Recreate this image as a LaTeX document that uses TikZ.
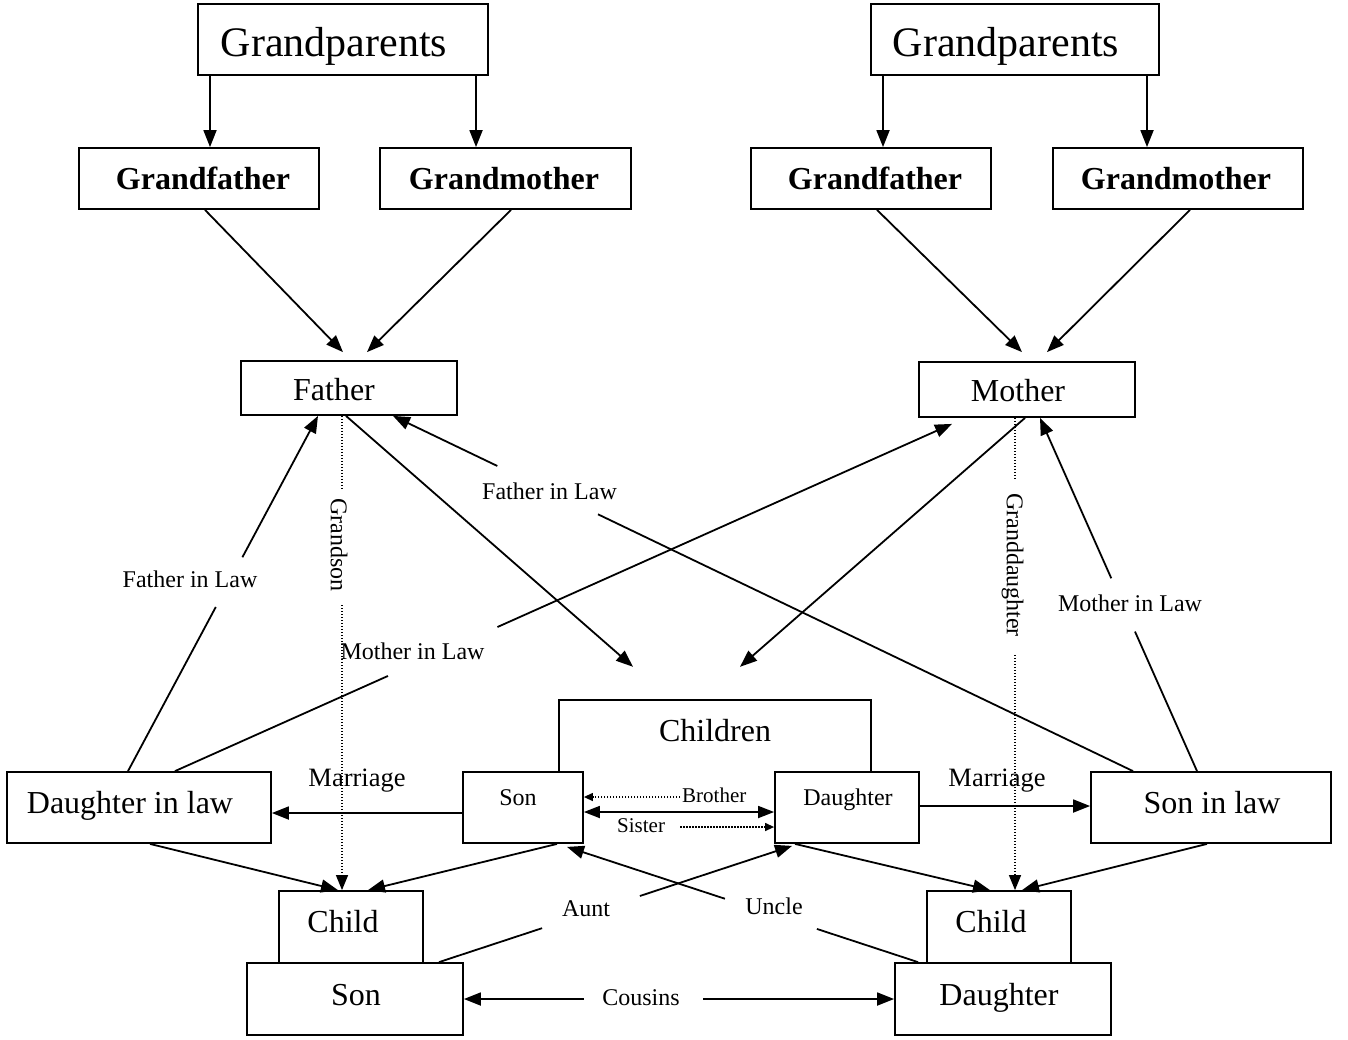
\documentclass[tikz,border=0pt]{standalone}
\usepackage{fontspec}
\setmainfont{Liberation Serif}
\usetikzlibrary{arrows.meta,calc}

\begin{document}
\begin{tikzpicture}[x=1pt,y=-1pt,
  box/.style={draw, line width=1.8pt, rectangle, inner sep=0pt},
  conn/.style={line width=1.8pt},
  arr/.style={conn, -{Triangle[length=17pt,width=13pt]}},
  dblarr/.style={conn, {Triangle[length=16pt,width=12pt]}-{Triangle[length=16pt,width=12pt]}},
  dotline/.style={line width=1.3pt, dash pattern=on 1.3pt off 1.7pt},
  dotarr/.style={dotline, -{Triangle[length=15pt,width=12pt]}},
  dotarrsmall/.style={dotline, -{Triangle[length=9pt,width=8pt]}},
  txt/.style={anchor=base, inner sep=0pt},
  tbig/.style={txt, font=\fontsize{42}{48}\selectfont},
  tmain/.style={txt, font=\fontsize{32}{38}\selectfont},
  tbold/.style={txt, font=\fontsize{32}{38}\selectfont\bfseries},
  tmid/.style={txt, font=\fontsize{24}{28}\selectfont},
  tmar/.style={txt, font=\fontsize{26.5}{30}\selectfont},
  tsmall/.style={txt, font=\fontsize{21}{25}\selectfont},
  tvert/.style={inner sep=0pt, rotate=-90, font=\fontsize{24}{28}\selectfont},
]
\useasboundingbox (0,0) rectangle (1348,1039);

% ---- boxes ----
\node[box, minimum width=290pt, minimum height=71pt] (gpL) at (343,39.5) {};
\node[box, minimum width=288pt, minimum height=71pt] (gpR) at (1015,39.5) {};
\node[box, minimum width=240pt, minimum height=61pt] (gfL) at (199,178.5) {};
\node[box, minimum width=251pt, minimum height=61pt] (gmL) at (505.5,178.5) {};
\node[box, minimum width=240pt, minimum height=61pt] (gfR) at (871,178.5) {};
\node[box, minimum width=250pt, minimum height=61pt] (gmR) at (1178,178.5) {};
\node[box, minimum width=216pt, minimum height=54pt] (father) at (349,388) {};
\node[box, minimum width=216pt, minimum height=55pt] (mother) at (1027,389.5) {};
\node[inner sep=0pt, minimum width=312pt, minimum height=72pt] (children) at (715,736) {};
\draw[line width=1.8pt] (children.south west) |- (children.north east) -- (children.south east);
\node[box, minimum width=120pt, minimum height=71pt] (sonM) at (523,807.5) {};
\node[box, minimum width=144pt, minimum height=71pt] (dauM) at (847,807.5) {};
\node[box, minimum width=264pt, minimum height=71pt] (dil) at (139,807.5) {};
\node[box, minimum width=240pt, minimum height=71pt] (sil) at (1211,807.5) {};
\node[box, minimum width=144pt, minimum height=72pt] (childL) at (351,927) {};
\node[box, minimum width=216pt, minimum height=72pt] (sonB) at (355,999) {};
\node[box, minimum width=144pt, minimum height=72pt] (childR) at (999,927) {};
\node[box, minimum width=216pt, minimum height=72pt] (dauB) at (1003,999) {};

% ---- box texts ----
\node[tbig] (gpLt) at (334,56) {Grandparents};
\node[tbig] (gpRt) at (1006,56) {Grandparents};
\node[tbold] (gfLt) at (203,189) {Grandfather};
\node[tbold] (gmLt) at (504,189) {Grandmother};
\node[tbold] (gfRt) at (875,189) {Grandfather};
\node[tbold] (gmRt) at (1176,189) {Grandmother};
\node[tmain] (fathert) at (334,400) {Father};
\node[tmain] (mothert) at (1018,401) {Mother};
\node[tmain] (childrent) at (715,741) {Children};
\node[tmid] (sonMt) at (518,805) {Son};
\node[tmid] (dauMt) at (848,805) {Daughter};
\node[tmain] (dilt) at (130,813) {Daughter in law};
\node[tmain] (silt) at (1212,813) {Son in law};
\node[tmain] (childLt) at (343,932) {Child};
\node[tmain] (childRt) at (991,932) {Child};
\node[tmain] (sonBt) at (356,1005) {Son};
\node[tmain] (dauBt) at (999,1005) {Daughter};

% ---- connector labels ----
\node[tmar] (marL) at (357,786) {Marriage};
\node[tmar] (marR) at (997,786) {Marriage};
\node[tsmall, anchor=base west] (brother) at (682,802) {Brother};
\node[tsmall, anchor=base west] (sister) at (617,832) {Sister};
\node[tmid] (filU) at (549.5,499) {Father in Law};
\node[tmid] (filL) at (190,587) {Father in Law};
\node[tmid] (milL) at (412.5,659) {Mother in Law};
\node[tmid] (milR) at (1130,611) {Mother in Law};
\node[tmid] (aunt) at (586,916) {Aunt};
\node[tmid] (uncle) at (774,914) {Uncle};
\node[tmid] (cousins) at (641,1005) {Cousins};
\node[tvert] (grandson) at (339,545) {Grandson};
\node[tvert] (granddau) at (1012.5,565) {Granddaughter};

% ---- grandparents to grandfather / grandmother ----
\draw[arr] ($(gpL.south)+(-133,0)$) -- ($(gpL.south|-gfL.north)+(-133,0)$);
\draw[arr] ($(gpL.south)+(133,0)$) -- ($(gpL.south|-gmL.north)+(133,0)$);
\draw[arr] ($(gpR.south)+(-132,0)$) -- ($(gpR.south|-gfR.north)+(-132,0)$);
\draw[arr] ($(gpR.south)+(132,0)$) -- ($(gpR.south|-gmR.north)+(132,0)$);

% ---- grandparents to father / mother ----
\draw[arr] ($(gfL.south)+(6,0)$) -- ($(father.north)+(-6,-8)$);
\draw[arr] ($(gmL.south)+(5.5,0)$) -- ($(father.north)+(18,-8)$);
\draw[arr] ($(gfR.south)+(6,0)$) -- ($(mother.north)+(-5,-9)$);
\draw[arr] ($(gmR.south)+(12,0)$) -- ($(mother.north)+(20,-9)$);

% ---- father / mother to children ----
\draw[arr] ($(father.south)+(-3,0)$) -- ($(children.north)+(-82,-33)$);
\draw[arr] ($(mother.south)+(-2,0)$) -- ($(children.north)+(25,-33)$);

% ---- in-law connectors, broken around their labels ----
\coordinate (filUs) at ($(sil.north)+(-78,0)$);
\coordinate (filUe) at ($(father.south)+(44,0)$);
\draw[conn] (filUs) -- ($(filUs)!0.723!(filUe)$);
\draw[arr] ($(filUs)!0.859!(filUe)$) -- (filUe);

\coordinate (filLs) at ($(dil.north)+(-11,0)$);
\coordinate (filLe) at ($(father.south)+(-31,0)$);
\draw[conn] (filLs) -- ($(filLs)!0.462!(filLe)$);
\draw[arr] ($(filLs)!0.602!(filLe)$) -- (filLe);

\coordinate (milLs) at ($(dil.north)+(36,0)$);
\coordinate (milLe) at ($(mother.south)+(-75,6)$);
\draw[conn] (milLs) -- ($(milLs)!0.274!(milLe)$);
\draw[arr] ($(milLs)!0.415!(milLe)$) -- (milLe);

\coordinate (milRs) at ($(sil.north)+(-14,0)$);
\coordinate (milRe) at ($(mother.south)+(13,0)$);
\draw[conn] (milRs) -- ($(milRs)!0.395!(milRe)$);
\draw[arr] ($(milRs)!0.546!(milRe)$) -- (milRe);

% ---- grandson / granddaughter dotted links ----
\coordinate (gsS) at ($(father.south)+(-7,0)$);
\coordinate (gsE) at ($(childL.north)+(-9,0)$);
\draw[dotline] (gsS) -- ($(gsS)!0.153!(gsE)$);
\draw[dotarr] ($(gsS)!0.399!(gsE)$) -- (gsE);

\coordinate (gdS) at ($(mother.south)+(-12,0)$);
\coordinate (gdE) at ($(childR.north)+(16,0)$);
\draw[dotline] (gdS) -- ($(gdS)!0.133!(gdE)$);
\draw[dotarr] ($(gdS)!0.502!(gdE)$) -- (gdE);

% ---- marriages ----
\draw[arr] ($(sonM.west)+(0,5.5)$) -- ($(dil.east)+(0,5.5)$);
\draw[arr] ($(dauM.east)+(0,-1.5)$) -- ($(sil.west)+(0,-1.5)$);

% ---- siblings ----
\coordinate (brA) at ($(brother.base west)+(-2,-5)$);
\draw[dotarrsmall] (brA) -- (brA -| sonM.east);
\draw[dblarr] ($(sonM.east)+(0,4.5)$) -- ($(dauM.west)+(0,4.5)$);
\coordinate (siA) at ($(sister.base east)+(15,-5)$);
\draw[dotarrsmall] (siA) -- (siA -| dauM.west);

% ---- parents to grandchildren ----
\draw[arr] ($(dil.south)+(11,0)$) -- ($(childL.north)+(-13,0)$);
\draw[arr] ($(sonM.south)+(34,0)$) -- ($(childL.north)+(17,0)$);
\draw[arr] ($(dauM.south)+(-52,0)$) -- ($(childR.north)+(-9,0)$);
\draw[arr] ($(sil.south)+(-4,0)$) -- ($(childR.north)+(23,0)$);

% ---- aunt / uncle ----
\coordinate (auS) at ($(sonB.north)+(84,0)$);
\coordinate (auE) at ($(dauM.south)+(-55,2)$);
\draw[conn] (auS) -- ($(auS)!0.292!(auE)$);
\draw[arr] ($(auS)!0.569!(auE)$) -- (auE);

\coordinate (unS) at ($(dauB.north)+(-85,0)$);
\coordinate (unE) at ($(sonM.south)+(44,3)$);
\draw[conn] (unS) -- ($(unS)!0.288!(unE)$);
\draw[arr] ($(unS)!0.55!(unE)$) -- (unE);

% ---- cousins ----
\draw[arr] ($(sonB.east)!0.278!(dauB.west)$) -- (sonB.east);
\draw[arr] ($(sonB.east)!0.556!(dauB.west)$) -- (dauB.west);
\end{tikzpicture}
\end{document}
